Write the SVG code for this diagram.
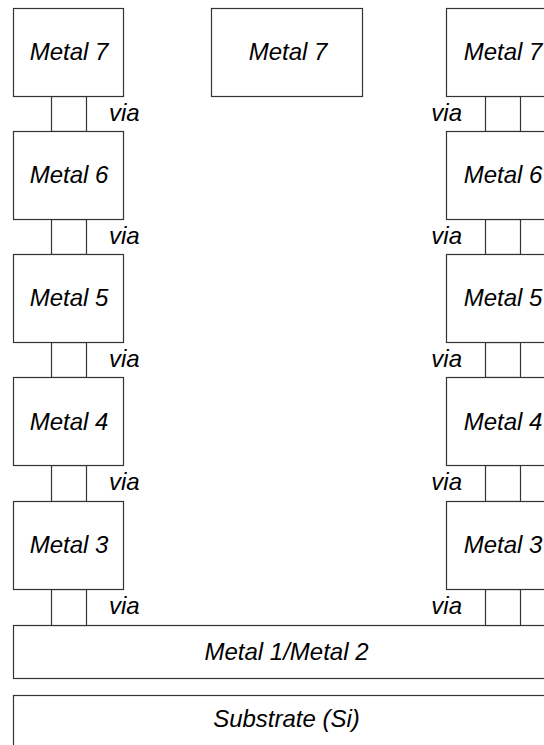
<svg xmlns="http://www.w3.org/2000/svg" width="544" height="745" viewBox="0 0 544 745">
<style>
.box{fill:#fff;stroke:#333;stroke-width:1.2}
.via{fill:#fff;stroke:#333;stroke-width:1.2}
.lbl{font-family:"Liberation Sans",Arial,sans-serif;font-style:italic;font-size:24px;fill:#000;text-anchor:middle}
.vl{font-family:"Liberation Sans",Arial,sans-serif;font-style:italic;font-size:24px;fill:#000}
</style>
<rect width="544" height="745" fill="#fff"/>
<g id="substrate"><rect class="box" x="13.5" y="695.5" width="546" height="60"/><text class="lbl" x="286.5" y="727">Substrate (Si)</text></g>
<g id="metal12"><rect class="box" x="13.5" y="625.5" width="546" height="53"/><text class="lbl" x="286.5" y="660">Metal 1/Metal 2</text></g>
<g id="connectors">
<rect class="via" x="51.5" y="96.5" width="35" height="35"/>
<rect class="via" x="51.5" y="219.5" width="35" height="35"/>
<rect class="via" x="51.5" y="342.5" width="35" height="35"/>
<rect class="via" x="51.5" y="465.5" width="35" height="36"/>
<rect class="via" x="51.5" y="589.5" width="35" height="36"/>
<rect class="via" x="485.5" y="96.5" width="35" height="35"/>
<rect class="via" x="485.5" y="219.5" width="35" height="35"/>
<rect class="via" x="485.5" y="342.5" width="35" height="35"/>
<rect class="via" x="485.5" y="465.5" width="35" height="36"/>
<rect class="via" x="485.5" y="589.5" width="35" height="36"/>
<text class="vl" x="109" y="121">via</text>
<text class="vl" x="109" y="244">via</text>
<text class="vl" x="109" y="367">via</text>
<text class="vl" x="109" y="490">via</text>
<text class="vl" x="109" y="614">via</text>
<text class="vl" x="462" y="121" text-anchor="end">via</text>
<text class="vl" x="462" y="244" text-anchor="end">via</text>
<text class="vl" x="462" y="367" text-anchor="end">via</text>
<text class="vl" x="462" y="490" text-anchor="end">via</text>
<text class="vl" x="462" y="614" text-anchor="end">via</text>
</g>
<g id="l7"><rect class="box" x="13.5" y="8.5" width="110" height="88"/><text class="lbl" x="69" y="60">Metal 7</text></g>
<g id="l6"><rect class="box" x="13.5" y="131.5" width="110" height="88"/><text class="lbl" x="69" y="183">Metal 6</text></g>
<g id="l5"><rect class="box" x="13.5" y="254.5" width="110" height="88"/><text class="lbl" x="69" y="306">Metal 5</text></g>
<g id="l4"><rect class="box" x="13.5" y="377.5" width="110" height="88"/><text class="lbl" x="69" y="429.5">Metal 4</text></g>
<g id="l3"><rect class="box" x="13.5" y="501.5" width="110" height="88"/><text class="lbl" x="69" y="553">Metal 3</text></g>
<g id="m7"><rect class="box" x="211.5" y="8.5" width="151" height="88"/><text class="lbl" x="288" y="60">Metal 7</text></g>
<g id="r7"><rect class="box" x="446.5" y="8.5" width="110" height="88"/><text class="lbl" x="503" y="60">Metal 7</text></g>
<g id="r6"><rect class="box" x="446.5" y="131.5" width="110" height="88"/><text class="lbl" x="503" y="183">Metal 6</text></g>
<g id="r5"><rect class="box" x="446.5" y="254.5" width="110" height="88"/><text class="lbl" x="503" y="306">Metal 5</text></g>
<g id="r4"><rect class="box" x="446.5" y="377.5" width="110" height="88"/><text class="lbl" x="503" y="429.5">Metal 4</text></g>
<g id="r3"><rect class="box" x="446.5" y="501.5" width="110" height="88"/><text class="lbl" x="503" y="553">Metal 3</text></g>
</svg>
